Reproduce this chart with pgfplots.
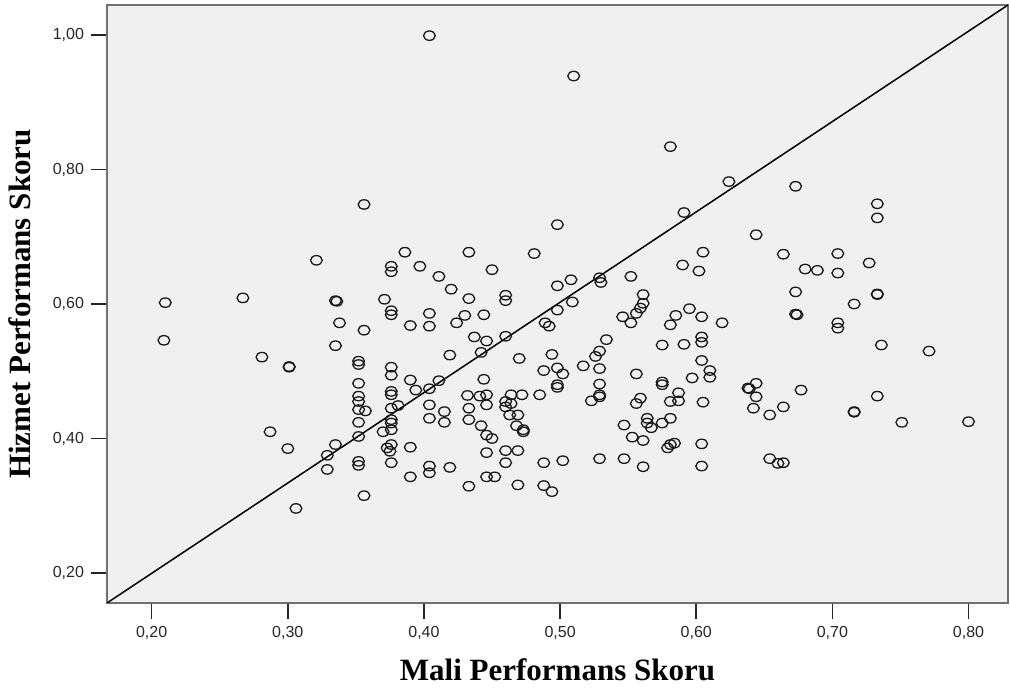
\documentclass[border=0pt]{standalone}
\usepackage{fontspec}
\setmainfont{Liberation Serif}
\newfontfamily\ticksans{Liberation Sans}
\usepackage{pgfplots}
\pgfplotsset{compat=1.18}
\usetikzlibrary{calc}
\definecolor{bgGray}{HTML}{F0F0F0}
\definecolor{frameGray}{HTML}{707070}

\pgfplotstableread{
mali hizmet
0.404 0.999
0.510 0.939
0.581 0.834
0.356 0.748
0.321 0.665
0.386 0.677
0.376 0.656
0.376 0.648
0.210 0.602
0.267 0.609
0.335 0.605
0.336 0.604
0.371 0.607
0.376 0.590
0.376 0.584
0.338 0.572
0.356 0.561
0.390 0.568
0.498 0.718
0.433 0.677
0.481 0.675
0.397 0.656
0.450 0.651
0.411 0.641
0.420 0.622
0.433 0.608
0.460 0.613
0.460 0.605
0.498 0.627
0.508 0.636
0.529 0.639
0.530 0.632
0.552 0.641
0.404 0.586
0.404 0.567
0.424 0.572
0.430 0.583
0.444 0.584
0.498 0.591
0.509 0.603
0.489 0.572
0.492 0.567
0.546 0.581
0.552 0.572
0.556 0.586
0.559 0.594
0.561 0.601
0.561 0.614
0.581 0.569
0.585 0.583
0.624 0.782
0.673 0.775
0.591 0.736
0.733 0.749
0.733 0.728
0.644 0.703
0.605 0.677
0.590 0.658
0.602 0.649
0.664 0.674
0.704 0.675
0.680 0.652
0.689 0.650
0.704 0.646
0.727 0.661
0.673 0.618
0.733 0.615
0.733 0.614
0.716 0.600
0.595 0.593
0.604 0.581
0.619 0.572
0.673 0.585
0.674 0.584
0.704 0.572
0.704 0.564
0.209 0.546
0.335 0.538
0.281 0.521
0.301 0.507
0.301 0.506
0.352 0.515
0.352 0.510
0.376 0.506
0.376 0.494
0.352 0.482
0.390 0.487
0.394 0.472
0.376 0.470
0.376 0.465
0.352 0.463
0.352 0.455
0.376 0.445
0.381 0.449
0.352 0.443
0.357 0.441
0.376 0.428
0.376 0.423
0.376 0.413
0.370 0.410
0.352 0.424
0.352 0.403
0.287 0.410
0.300 0.385
0.335 0.391
0.329 0.375
0.329 0.354
0.352 0.366
0.352 0.360
0.373 0.386
0.375 0.381
0.376 0.391
0.376 0.364
0.390 0.387
0.390 0.343
0.356 0.315
0.306 0.296
0.437 0.551
0.446 0.545
0.460 0.552
0.534 0.547
0.529 0.530
0.526 0.522
0.575 0.539
0.419 0.524
0.442 0.528
0.470 0.519
0.494 0.525
0.517 0.508
0.488 0.501
0.498 0.505
0.502 0.496
0.529 0.504
0.498 0.480
0.498 0.476
0.529 0.481
0.411 0.486
0.404 0.474
0.444 0.488
0.556 0.496
0.575 0.484
0.575 0.480
0.432 0.464
0.441 0.463
0.446 0.465
0.446 0.450
0.464 0.465
0.472 0.465
0.485 0.465
0.460 0.455
0.460 0.447
0.464 0.452
0.404 0.450
0.415 0.440
0.404 0.430
0.415 0.424
0.433 0.445
0.433 0.428
0.463 0.435
0.469 0.435
0.442 0.419
0.446 0.405
0.450 0.400
0.468 0.419
0.473 0.413
0.473 0.410
0.529 0.465
0.529 0.462
0.523 0.456
0.559 0.460
0.556 0.452
0.587 0.468
0.587 0.456
0.581 0.455
0.564 0.430
0.564 0.423
0.567 0.416
0.575 0.423
0.581 0.430
0.547 0.420
0.553 0.402
0.561 0.397
0.579 0.386
0.581 0.391
0.584 0.393
0.446 0.379
0.460 0.382
0.469 0.382
0.460 0.364
0.404 0.359
0.404 0.349
0.419 0.357
0.446 0.343
0.452 0.343
0.433 0.329
0.469 0.331
0.488 0.364
0.502 0.367
0.488 0.330
0.494 0.321
0.529 0.370
0.547 0.370
0.561 0.358
0.604 0.551
0.604 0.543
0.591 0.540
0.736 0.539
0.771 0.530
0.604 0.516
0.610 0.501
0.610 0.491
0.597 0.490
0.644 0.482
0.638 0.475
0.639 0.474
0.644 0.462
0.642 0.445
0.654 0.435
0.664 0.447
0.677 0.472
0.605 0.454
0.733 0.463
0.716 0.439
0.716 0.440
0.751 0.424
0.800 0.425
0.604 0.392
0.604 0.359
0.654 0.370
0.660 0.363
0.664 0.364
}\scores

\begin{document}
\begin{tikzpicture}
\begin{axis}[
  scale only axis,
  width=450.5pt,
  height=299pt,
  xmin=0.1672, xmax=0.829,
  ymin=0.1554, ymax=1.0446,
  xtick={0.2,0.3,0.4,0.5,0.6,0.7,0.8},
  ytick={0.2,0.4,0.6,0.8,1.0},
  xtick pos=bottom, ytick pos=left,
  tick align=outside,
  major tick length=8pt,
  tick style={draw=black!85, line width=0.8pt},
  axis line style={draw=frameGray, line width=1pt},
  axis background/.style={fill=bgGray},
  /pgf/number format/.cd, fixed, fixed zerofill, precision=2, use comma, assume math mode=true,
  /pgfplots/.cd,
  tick label style={font=\ticksans\fontsize{8}{9}\selectfont, text=black!85},
  xlabel={Mali Performans Skoru},
  ylabel={Hizmet Performans Skoru},
  label style={font=\bfseries\fontsize{15.5}{18}\selectfont},
  xlabel style={at={(axis description cs:0.5,-0.112)}, anchor=center},
  ylabel style={at={(axis description cs:-0.0966,0.5)}, anchor=center},
]
% reference line, corner to corner
\addplot[black, line width=0.75pt] coordinates {(0.1672,0.1554) (0.829,1.0446)};
\addplot[only marks, mark=o, mark size=2.35pt,
  mark options={xscale=1.25, draw=black!90, line width=0.65pt}] table[x=mali, y=hizmet] {\scores};
\end{axis}
\pgfresetboundingbox
\path ($(current axis.south west)+(-53.5pt,-43pt)$) rectangle ($(current axis.north east)+(1pt,2.5pt)$);
\end{tikzpicture}
\end{document}
